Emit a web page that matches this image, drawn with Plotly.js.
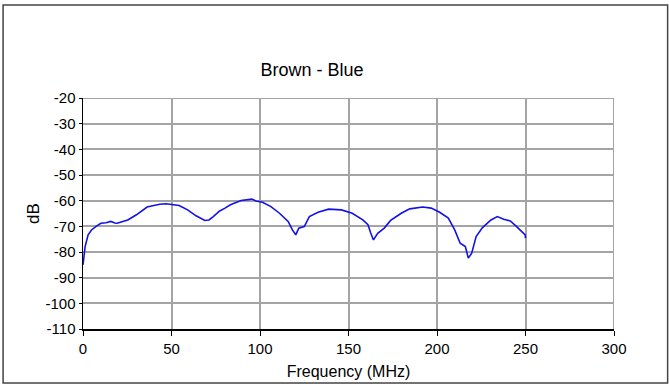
<!DOCTYPE html>
<html>
<head>
<meta charset="utf-8">
<script src="https://cdn.plot.ly/plotly-3.0.1.min.js"></script>
<style>html,body{margin:0;padding:0;background:#fff;}#chart{width:669px;height:386px;}</style>
</head>
<body>
<div id="chart"></div>
<script>
const chartTitle = "Brown - Blue";
const xTitle = "Frequency (MHz)";
const yTitle = "dB";
const freqMHz = [0, 1.2, 2.9, 4.8, 7.2, 10.1, 13, 15.7, 18, 19.3, 22, 25.3, 30.2, 36.2, 40, 43.4, 47, 49.5, 54.3, 59.1, 63.9, 68.8, 71.2, 73.6, 77.2, 80, 83.3, 89.3, 93, 95.3, 97.8, 101.4, 106.2, 111.0, 115.9, 118.3, 120.2, 121.9, 125.0, 127.9, 132.8, 138.8, 146.0, 152.1, 158.1, 161.0, 162.5, 164.1, 166.5, 170.2, 173.8, 179.8, 184.6, 191.9, 196.7, 201.5, 206.4, 210.0, 213.1, 216.0, 217.7, 219.6, 222.1, 225.7, 230.5, 234.1, 237.7, 241.4, 245.0, 247.9, 249.8, 250];
const levelDB = [-85.0, -77.9, -73.3, -71.4, -70.1, -68.8, -68.6, -68.1, -68.7, -68.8, -68.2, -67.5, -65.5, -62.5, -61.9, -61.4, -61.2, -61.4, -61.9, -63.6, -65.9, -67.7, -67.5, -66.2, -64.0, -63.0, -61.6, -59.9, -59.6, -59.4, -60.1, -60.6, -62.3, -64.9, -68.1, -71.4, -73.3, -70.7, -70.1, -66.2, -64.5, -63.3, -63.6, -64.9, -67.5, -69.4, -72.5, -75.3, -72.7, -70.7, -67.7, -64.9, -63.2, -62.5, -62.9, -64.5, -66.8, -71.4, -76.6, -77.9, -82.4, -80.5, -74.0, -70.5, -67.5, -66.2, -67.2, -67.9, -70.1, -72.0, -73.3, -74.6];
const xTicks = [0, 50, 100, 150, 200, 250, 300];
const yTicks = [-20, -30, -40, -50, -60, -70, -80, -90, -100, -110];

const font = "Liberation Sans, Arial, sans-serif";
const trace = {
  x: freqMHz, y: levelDB, type: "scatter", mode: "lines",
  line: {color: "#1212e8", width: 1.6}, hoverinfo: "skip"
};
const layout = {
  width: 669, height: 386,
  margin: {l: 83, r: 55, t: 98, b: 57},
  paper_bgcolor: "#ffffff", plot_bgcolor: "#ffffff",
  showlegend: false,
  font: {family: font, color: "#000", size: 15},
  title: {text: chartTitle, font: {family: font, size: 18, color: "#000"},
          x: 312/669, xanchor: "center", y: 1 - 70/386, yanchor: "middle"},
  xaxis: {
    range: [0, 300], tickvals: xTicks, ticktext: xTicks.map(String),
    showgrid: true, gridcolor: "#a4a4a4", gridwidth: 2,
    showline: true, linecolor: "#000", linewidth: 1.5,
    ticks: "outside", ticklen: 5, tickcolor: "#000",
    zeroline: false, tickfont: {family: font, size: 15},
    title: {text: xTitle, font: {family: font, size: 16}, standoff: 10}
  },
  yaxis: {
    range: [-110, -20], tickvals: yTicks, ticktext: yTicks.map(String),
    showgrid: true, gridcolor: "#a4a4a4", gridwidth: 2,
    showline: true, linecolor: "#000", linewidth: 1.5,
    ticks: "outside", ticklen: 3, tickcolor: "#000",
    zeroline: false, tickfont: {family: font, size: 15},
    title: {text: yTitle, font: {family: font, size: 17}, standoff: 1}
  },
  shapes: [
    {type: "line", xref: "x", yref: "y", x0: 0, x1: 300, y0: -20, y1: -20, line: {color: "#a4a4a4", width: 2}},
    {type: "line", xref: "x", yref: "y", x0: 300, x1: 300, y0: -110, y1: -20, line: {color: "#a4a4a4", width: 2}},
    {type: "rect", xref: "paper", yref: "paper", x0: -0.1505, x1: 1.101, y0: -0.234, y1: 1.4026, line: {color: "#444", width: 1.5}, layer: "below"}
  ]
};
Plotly.newPlot("chart", [trace], layout, {displayModeBar: false, staticPlot: true});
</script>
</body>
</html>
